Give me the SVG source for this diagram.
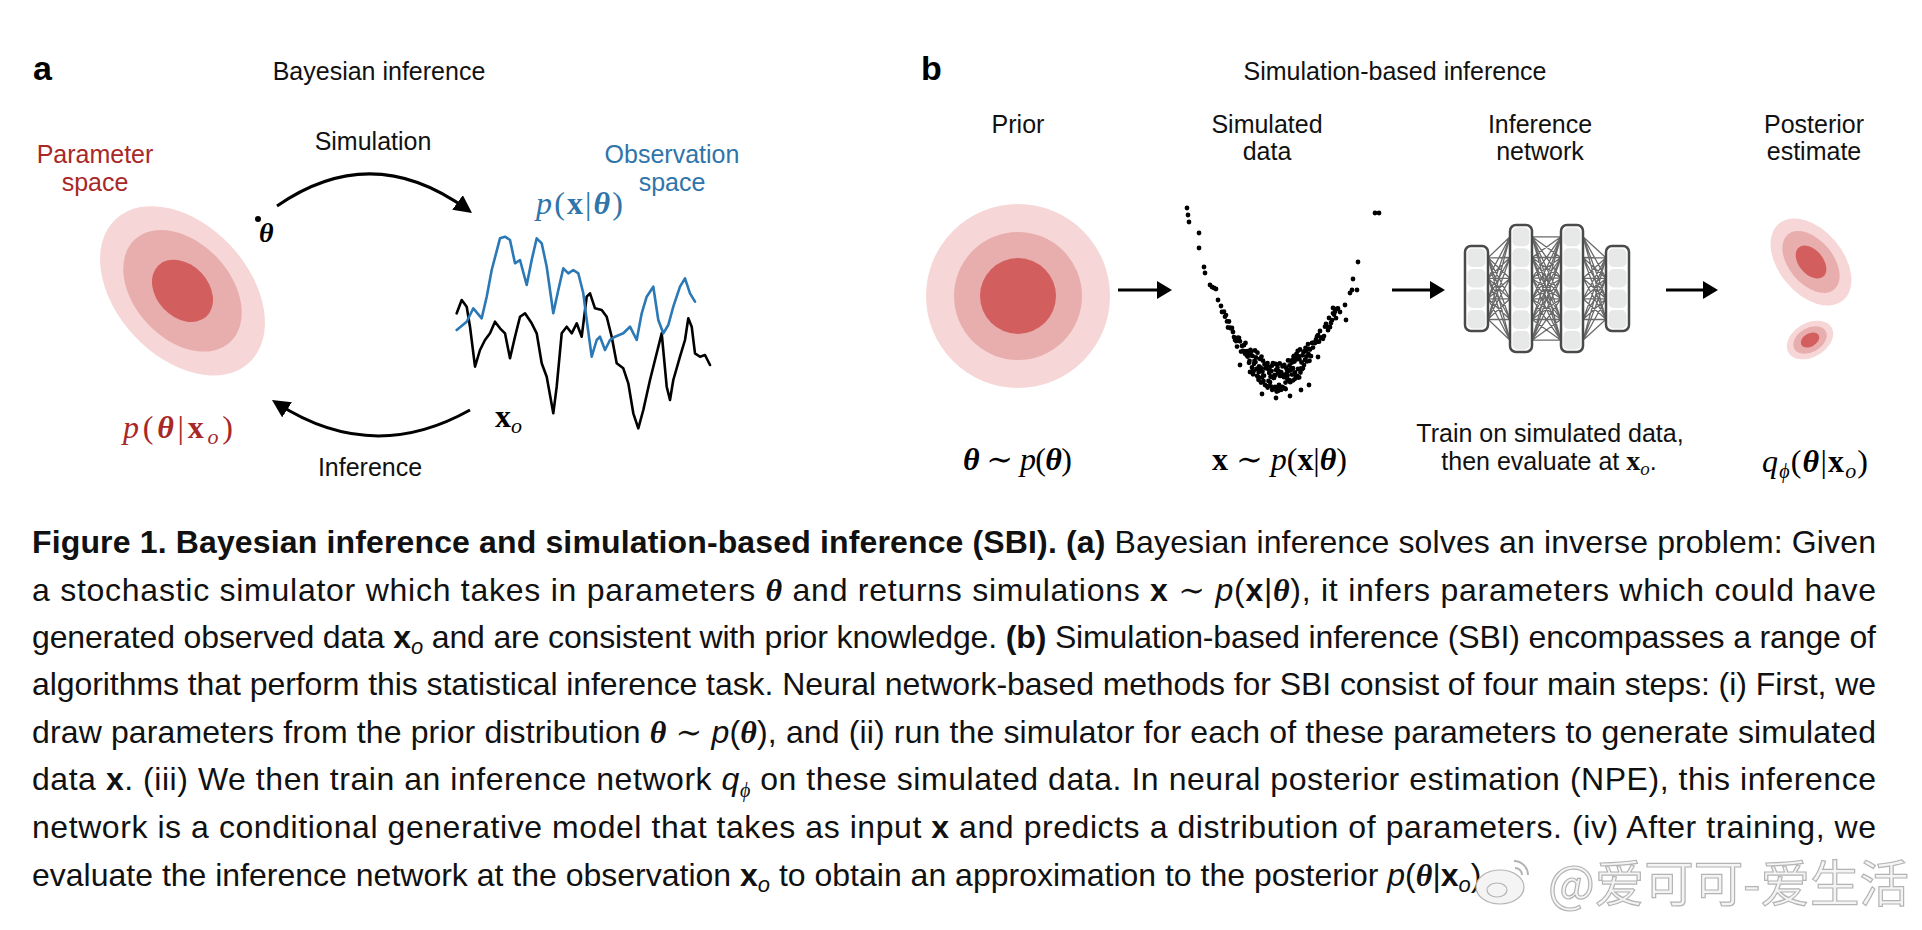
<svg xmlns="http://www.w3.org/2000/svg" width="1922" height="930" viewBox="0 0 1922 930">
<style>
.sans{font-family:"Liberation Sans",Arial,Helvetica,sans-serif}
.lbl{font-size:25px;fill:#111}
.ser{font-family:"Liberation Serif","DejaVu Serif","Times New Roman",serif}
.math{font-size:32px}
.it{font-style:italic}
.bf{font-weight:bold}
.red{fill:#a82828}
.blue{fill:#2f74aa}
.cap{font-size:32px;fill:#111}
.e1{fill:#f6d6d6}
.e2{fill:#e8aeae}
.e3{fill:#d35e5e}
.col{fill:#ffffff;stroke:#4a4a4a;stroke-width:2.5}
.cell{fill:#e7e8e8}
.wm{font-family:"Noto Sans CJK SC","Noto Sans",sans-serif;font-size:49.5px;fill:#f4f4f4;stroke:#b4b4b4;stroke-width:1.2}
</style>
<defs>
<marker id="headA" viewBox="0 0 18 18" refX="12" refY="9" markerWidth="18" markerHeight="18" markerUnits="userSpaceOnUse" orient="auto"><path d="M0 0L18 9L0 18z" fill="#000"/></marker>
<marker id="headB" viewBox="0 0 15 18" refX="10" refY="9" markerWidth="15" markerHeight="18" markerUnits="userSpaceOnUse" orient="auto"><path d="M0 0L15 9L0 18z" fill="#000"/></marker>
</defs>
<rect width="1922" height="930" fill="#fff"/>

<!-- Panel a -->
<g id="panel-a-title">
<text x="33" y="80" class="sans bf" font-size="34">a</text>
<text x="379" y="80" class="sans lbl" text-anchor="middle">Bayesian inference</text>
</g>
<g id="parameter-space">
<text x="95" y="163" class="sans lbl red" text-anchor="middle">Parameter</text>
<text x="95" y="191" class="sans lbl red" text-anchor="middle">space</text>
<g transform="translate(182.5 290.8) rotate(47)">
<ellipse rx="98" ry="66" class="e1"/>
<ellipse rx="70" ry="48" class="e2"/>
<ellipse rx="35" ry="26" class="e3"/>
</g>
<text x="123" y="438" class="ser math red" textLength="110"><tspan class="it">p</tspan>(<tspan class="bf it">θ</tspan>|<tspan class="bf">x</tspan><tspan class="it" font-size="22" dy="6">o</tspan><tspan dy="-6">)</tspan></text>
</g>
<g id="theta-point">
<circle cx="258" cy="219" r="3" fill="#000"/>
<text x="259" y="242" class="ser bf it" font-size="28">θ</text>
</g>
<g id="observation-space">
<text x="672" y="163" class="sans lbl blue" text-anchor="middle">Observation</text>
<text x="672" y="191" class="sans lbl blue" text-anchor="middle">space</text>
<text x="536" y="214" class="ser math blue" textLength="87"><tspan class="it">p</tspan>(<tspan class="bf">x</tspan>|<tspan class="bf it">θ</tspan>)</text>
<polyline fill="none" stroke="#000" stroke-width="2.6" stroke-linejoin="round" stroke-linecap="round" points="456.7,313.3 461.7,300 466.7,306.7 470,326.7 475,366.7 480,350 485,340 490,333.3 495,321.7 500,328.3 505,333.3 510,358.3 515,336.7 520,316.7 525,313.3 531.7,323.3 536.7,333.3 541.7,363.3 546.7,376.7 553.3,413.3 556.7,386.7 561.7,333.3 566.7,326.7 571.7,333.3 576.7,323.3 581.7,336.7 586.7,296.7 590,293.3 595,308.3 601.7,310 606.7,316.7 611.7,336.7 616.7,363.3 623.3,368.3 628.3,383.3 633.3,413.3 638.3,428.3 643.3,410 650,380 656.7,353.3 661.7,333.3 666.7,386.7 670,400 673.3,380 680,356.7 685,340 688.3,318.3 691.7,326.7 695,353.3 700,356.7 705,355 710,365"/>
<polyline fill="none" stroke="#2a78b5" stroke-width="2.6" stroke-linejoin="round" stroke-linecap="round" points="456.7,330 466.7,321.7 473.3,308.3 481.7,318.3 486.7,296.7 491.7,270 500,238.3 505,236.7 510,240 515,263.3 520,260 526.7,285 531.7,260 536.7,238.3 541.7,243.3 546.7,266.7 553.3,313.3 558.3,290 563.3,268.3 568.3,273.3 573.3,270 578.3,273.3 583.3,293.3 586.7,320 591.7,356.7 596.7,340 600,336.7 605,350 610,340 615,336.7 623.3,333.3 630,326.7 636.7,340 641.7,313.3 646.7,296.7 653.3,286.7 658.3,320 663.3,333.3 668.3,325 673.3,306.7 680,286.7 685,278.3 690,293.3 695,301.7"/>
<text x="495" y="427" class="ser math"><tspan class="bf">x</tspan><tspan class="it" font-size="22" dy="6">o</tspan></text>
</g>

<!-- Panel b -->
<g id="panel-b-title">
<text x="921" y="80" class="sans bf" font-size="34">b</text>
<text x="1395" y="80" class="sans lbl" text-anchor="middle">Simulation-based inference</text>
</g>
<g id="prior">
<text x="1018" y="133" class="sans lbl" text-anchor="middle">Prior</text>
<circle cx="1018" cy="296" r="92" class="e1"/>
<circle cx="1018" cy="296" r="64" class="e2"/>
<circle cx="1018" cy="296" r="38" class="e3"/>
<text x="963" y="470" class="ser math" textLength="109"><tspan class="bf it">θ</tspan> ∼ <tspan class="it">p</tspan>(<tspan class="bf it">θ</tspan>)</text>
</g>
<g id="simulated-data">
<text x="1267" y="133" class="sans lbl" text-anchor="middle">Simulated</text>
<text x="1267" y="160" class="sans lbl" text-anchor="middle">data</text>
<path fill="none" stroke="#000" stroke-width="4.8" stroke-linecap="round" d="M1187 208h0M1188 215h0M1189 222h0M1199 233h0M1199 248h0M1204 267h0M1205 273h0M1210 285h0M1212 287h0M1214 288h0M1216 289h0M1218 300h0M1221 306h0M1222 312h0
M1224 311.6h0M1225 316.7h0M1226 315.1h0M1227 321.4h0M1228 327.5h0M1229 321.5h0M1230 327.7h0M1231 328.4h0M1232 327.9h0M1233 332h0M1234 337.1h0M1235 340h0M1236 341.2h0M1237 346.6h0M1238 337.7h0M1239 337.8h0M1240 341.3h0M1241 351.6h0M1242 345.9h0M1243 350.9h0M1244 345.2h0M1245 353.7h0M1246 351.5h0M1247 351.1h0M1248 352.5h0M1249 362.8h0M1250 355.3h0M1251 351.9h0M1252 367.4h0M1253 374.3h0M1254 363.8h0M1255 350.5h0M1256 357.4h0M1257 375.8h0M1258 376.9h0M1259 366.5h0M1260 358.9h0M1261 382.6h0M1262 377.4h0M1263 360.7h0M1264 375.7h0M1265 385h0M1266 368.3h0M1267 386.2h0M1268 386.8h0M1269 370.1h0M1270 382.2h0M1271 376.8h0M1272 365.7h0M1273 363.1h0M1274 377.9h0M1275 387h0M1276 370.1h0M1277 364.6h0M1278 391h0M1279 384.8h0M1280 375.9h0M1281 389.9h0M1282 375.1h0M1283 374.7h0M1284 377.2h0M1285 388.4h0M1286 367.8h0M1287 369.9h0M1288 360.4h0M1289 379.9h0M1290 382h0M1291 361h0M1292 374.6h0M1293 368.2h0M1294 355.8h0M1295 372.3h0M1296 359.7h0M1297 375.9h0M1298 369h0M1299 356.4h0M1300 349.5h0M1301 368.4h0M1302 369.3h0M1303 368.2h0M1304 365.1h0M1305 360h0M1306 350.7h0M1307 361.4h0M1308 344.1h0M1309 348.8h0M1310 349.5h0M1311 356.2h0M1312 342.9h0M1313 347.6h0M1314 342.3h0M1315 343h0M1316 339.3h0M1317 336.5h0M1318 335.1h0M1319 341.7h0M1320 331h0M1321 337.6h0M1322 337.5h0M1323 338.8h0M1324 336.1h0M1325 326.7h0M1326 323.8h0M1327 326.3h0M1328 330.2h0M1329 318h0M1330 327.2h0M1331 323h0M1332 320.2h0M1333 313.3h0M1334 314.5h0M1335 311.7h0M1336 318.2h0M1337 308.7h0M1338 308.5h0
M1245.5 343h0M1246.5 355.1h0M1247.5 356.5h0M1248.5 354.3h0M1249.5 361h0M1250.5 350h0M1251.5 372.1h0M1252.5 355.9h0M1253.5 371.4h0M1254.5 361h0M1255.5 362.1h0M1256.5 368.9h0M1257.5 352.7h0M1258.5 379.8h0M1259.5 369.3h0M1260.5 370.4h0M1261.5 356.6h0M1262.5 371.6h0M1263.5 380.9h0M1264.5 364.2h0M1265.5 364.8h0M1266.5 368.3h0M1267.5 363.1h0M1268.5 381h0M1269.5 367.2h0M1270.5 376.4h0M1271.5 371.1h0M1272.5 377.2h0M1273.5 389.1h0M1274.5 375.1h0M1275.5 363.9h0M1276.5 387.4h0M1277.5 367.5h0M1278.5 370.8h0M1279.5 387.7h0M1280.5 375.9h0M1281.5 387h0M1282.5 366.4h0M1283.5 366h0M1284.5 365.7h0M1285.5 382.6h0M1286.5 373.6h0M1287.5 375.6h0M1288.5 360.4h0M1289.5 365.5h0M1290.5 382h0M1291.5 369.7h0M1292.5 360.2h0M1293.5 356.6h0M1294.5 361.6h0M1295.5 375.2h0M1296.5 353.9h0M1297.5 355.7h0M1298.5 377.7h0M1299.5 359.3h0M1300.5 372.6h0M1301.5 362.4h0M1302.5 355.3h0M1303.5 352.2h0M1304.5 351.1h0M1305.5 348h0M1306.5 356.7h0M1307.5 355.4h0M1308.5 354.1h0M1309.5 360.8h0
M1258.7 372.3h0M1260.2 367.5h0M1261.7 368.4h0M1263.2 375.6h0M1264.7 364h0M1266.2 364.9h0M1267.7 387.6h0M1269.2 372.9h0M1270.7 386.2h0M1272.2 389.8h0M1273.7 378h0M1275.2 375.4h0M1276.7 391.5h0M1278.2 373.2h0M1279.7 363.3h0M1281.2 372.1h0M1282.7 387.1h0M1284.2 364.8h0M1285.7 389.1h0M1287.2 378.7h0M1288.7 371.2h0M1290.2 370.1h0M1291.7 362.7h0M1293.2 380.3h0M1294.7 379.1h0M1296.2 355.8h0M1297.7 351h0M1299.2 377.4h0M1300.7 369.5h0
M1276 398h0M1290 396h0M1262 394h0M1301 390h0M1309 385h0M1240 365h0M1318 357h0M1250 372h0
M1340 312h0M1345 305h0M1346 320h0M1333 308h0M1350 293h0M1352 290h0M1357 290h0M1353 279h0M1358 262h0M1375 213h0M1379 213h0"/>
<text x="1212" y="470" class="ser math" textLength="135"><tspan class="bf">x</tspan> ∼ <tspan class="it">p</tspan>(<tspan class="bf">x</tspan>|<tspan class="bf it">θ</tspan>)</text>
</g>
<g id="inference-network">
<text x="1540" y="133" class="sans lbl" text-anchor="middle">Inference</text>
<text x="1540" y="160" class="sans lbl" text-anchor="middle">network</text>
<path fill="none" stroke="#6a6a6a" stroke-width="1.3" d="M1488 257.8L1510 236.8M1488 257.8L1510 257.5M1488 257.8L1510 278.2M1488 257.8L1510 298.8M1488 257.8L1510 319.5M1488 257.8L1510 340.2M1488 278.3L1510 236.8M1488 278.3L1510 257.5M1488 278.3L1510 278.2M1488 278.3L1510 298.8M1488 278.3L1510 319.5M1488 278.3L1510 340.2M1488 298.8L1510 236.8M1488 298.8L1510 257.5M1488 298.8L1510 278.2M1488 298.8L1510 298.8M1488 298.8L1510 319.5M1488 298.8L1510 340.2M1488 319.3L1510 236.8M1488 319.3L1510 257.5M1488 319.3L1510 278.2M1488 319.3L1510 298.8M1488 319.3L1510 319.5M1488 319.3L1510 340.2
M1532 236.8L1561 236.8M1532 236.8L1561 257.5M1532 236.8L1561 278.2M1532 236.8L1561 298.8M1532 236.8L1561 319.5M1532 236.8L1561 340.2M1532 257.5L1561 236.8M1532 257.5L1561 257.5M1532 257.5L1561 278.2M1532 257.5L1561 298.8M1532 257.5L1561 319.5M1532 257.5L1561 340.2M1532 278.2L1561 236.8M1532 278.2L1561 257.5M1532 278.2L1561 278.2M1532 278.2L1561 298.8M1532 278.2L1561 319.5M1532 278.2L1561 340.2M1532 298.8L1561 236.8M1532 298.8L1561 257.5M1532 298.8L1561 278.2M1532 298.8L1561 298.8M1532 298.8L1561 319.5M1532 298.8L1561 340.2M1532 319.5L1561 236.8M1532 319.5L1561 257.5M1532 319.5L1561 278.2M1532 319.5L1561 298.8M1532 319.5L1561 319.5M1532 319.5L1561 340.2M1532 340.2L1561 236.8M1532 340.2L1561 257.5M1532 340.2L1561 278.2M1532 340.2L1561 298.8M1532 340.2L1561 319.5M1532 340.2L1561 340.2
M1583 236.8L1606 257.8M1583 236.8L1606 278.3M1583 236.8L1606 298.8M1583 236.8L1606 319.3M1583 257.5L1606 257.8M1583 257.5L1606 278.3M1583 257.5L1606 298.8M1583 257.5L1606 319.3M1583 278.2L1606 257.8M1583 278.2L1606 278.3M1583 278.2L1606 298.8M1583 278.2L1606 319.3M1583 298.8L1606 257.8M1583 298.8L1606 278.3M1583 298.8L1606 298.8M1583 298.8L1606 319.3M1583 319.5L1606 257.8M1583 319.5L1606 278.3M1583 319.5L1606 298.8M1583 319.5L1606 319.3M1583 340.2L1606 257.8M1583 340.2L1606 278.3M1583 340.2L1606 298.8M1583 340.2L1606 319.3"/>
<rect x="1465" y="246" width="23" height="85" rx="6" class="col"/>
<rect x="1467.5" y="248.5" width="18" height="18.5" rx="5" class="cell"/>
<rect x="1467.5" y="269" width="18" height="18.5" rx="5" class="cell"/>
<rect x="1467.5" y="289.5" width="18" height="18.5" rx="5" class="cell"/>
<rect x="1467.5" y="310" width="18" height="18.5" rx="5" class="cell"/>
<rect x="1510" y="225" width="22" height="127" rx="6" class="col"/>
<rect x="1512.5" y="227.5" width="17" height="18.7" rx="5" class="cell"/>
<rect x="1512.5" y="248.2" width="17" height="18.7" rx="5" class="cell"/>
<rect x="1512.5" y="268.8" width="17" height="18.7" rx="5" class="cell"/>
<rect x="1512.5" y="289.5" width="17" height="18.7" rx="5" class="cell"/>
<rect x="1512.5" y="310.2" width="17" height="18.7" rx="5" class="cell"/>
<rect x="1512.5" y="330.8" width="17" height="18.7" rx="5" class="cell"/>
<rect x="1561" y="225" width="22" height="127" rx="6" class="col"/>
<rect x="1563.5" y="227.5" width="17" height="18.7" rx="5" class="cell"/>
<rect x="1563.5" y="248.2" width="17" height="18.7" rx="5" class="cell"/>
<rect x="1563.5" y="268.8" width="17" height="18.7" rx="5" class="cell"/>
<rect x="1563.5" y="289.5" width="17" height="18.7" rx="5" class="cell"/>
<rect x="1563.5" y="310.2" width="17" height="18.7" rx="5" class="cell"/>
<rect x="1563.5" y="330.8" width="17" height="18.7" rx="5" class="cell"/>
<rect x="1606" y="246" width="23" height="85" rx="6" class="col"/>
<rect x="1608.5" y="248.5" width="18" height="18.5" rx="5" class="cell"/>
<rect x="1608.5" y="269" width="18" height="18.5" rx="5" class="cell"/>
<rect x="1608.5" y="289.5" width="18" height="18.5" rx="5" class="cell"/>
<rect x="1608.5" y="310" width="18" height="18.5" rx="5" class="cell"/>
<text x="1550" y="442" class="sans lbl" text-anchor="middle">Train on simulated data,</text>
<text x="1549" y="470" class="sans lbl" text-anchor="middle">then evaluate at <tspan class="ser bf" font-size="28">x</tspan><tspan class="ser it" font-size="19" dy="5">o</tspan><tspan dy="-5">.</tspan></text>
</g>
<g id="posterior-estimate">
<text x="1814" y="133" class="sans lbl" text-anchor="middle">Posterior</text>
<text x="1814" y="160" class="sans lbl" text-anchor="middle">estimate</text>
<g transform="translate(1811 262) rotate(50)">
<ellipse rx="50" ry="32" class="e1"/>
<ellipse rx="36" ry="22" class="e2"/>
<ellipse rx="19" ry="12" class="e3"/>
</g>
<g transform="translate(1810 340) rotate(-30)">
<ellipse rx="25" ry="17" class="e1"/>
<ellipse rx="18" ry="12" class="e2"/>
<ellipse rx="10" ry="6.5" class="e3"/>
</g>
<text x="1762" y="472" class="ser math" textLength="106"><tspan class="it">q</tspan><tspan class="it" font-size="20" dy="6">ϕ</tspan><tspan dy="-6">(</tspan><tspan class="bf it">θ</tspan>|<tspan class="bf">x</tspan><tspan class="it" font-size="22" dy="6">o</tspan><tspan dy="-6">)</tspan></text>
</g>

<g id="connectors" fill="none" stroke="#000">
<path d="M277 206Q372 140 467.2 209.5" stroke-width="3" marker-end="url(#headA)"/>
<text x="373" y="150" class="sans lbl" text-anchor="middle" stroke="none">Simulation</text>
<path d="M470 410Q372 465 277 403.3" stroke-width="3" marker-end="url(#headA)"/>
<text x="370" y="476" class="sans lbl" text-anchor="middle" stroke="none">Inference</text>
<path d="M1118 290H1167" stroke-width="3" marker-end="url(#headB)"/>
<path d="M1392 290H1440" stroke-width="3" marker-end="url(#headB)"/>
<path d="M1666 290H1713" stroke-width="3" marker-end="url(#headB)"/>
</g>

<g id="caption" class="sans cap">
<text x="32" y="553" textLength="1844"><tspan class="bf">Figure 1. Bayesian inference and simulation-based inference (SBI). (a)</tspan> Bayesian inference solves an inverse problem: Given</text>
<text x="32" y="601" textLength="1844">a stochastic simulator which takes in parameters <tspan class="ser bf it">θ</tspan> and returns simulations <tspan class="bf">x</tspan> <tspan class="ser">∼</tspan> <tspan class="it">p</tspan>(<tspan class="bf">x</tspan>|<tspan class="ser bf it">θ</tspan>), it infers parameters which could have</text>
<text x="32" y="648" textLength="1844">generated observed data <tspan class="bf">x</tspan><tspan class="it" font-size="22" dy="6">o</tspan><tspan dy="-6"> and are consistent with prior knowledge. </tspan><tspan class="bf">(b)</tspan> Simulation-based inference (SBI) encompasses a range of</text>
<text x="32" y="695" textLength="1844">algorithms that perform this statistical inference task. Neural network-based methods for SBI consist of four main steps: (i) First, we</text>
<text x="32" y="743" textLength="1844">draw parameters from the prior distribution <tspan class="ser bf it">θ</tspan> <tspan class="ser">∼</tspan> <tspan class="it">p</tspan>(<tspan class="ser bf it">θ</tspan>), and (ii) run the simulator for each of these parameters to generate simulated</text>
<text x="32" y="790" textLength="1844">data <tspan class="bf">x</tspan>. (iii) We then train an inference network <tspan class="it">q</tspan><tspan class="ser it" font-size="20" dy="7">ϕ</tspan><tspan dy="-7"> on these simulated data. In neural posterior estimation (NPE), this inference</tspan></text>
<text x="32" y="838" textLength="1844">network is a conditional generative model that takes as input <tspan class="bf">x</tspan> and predicts a distribution of parameters. (iv) After training, we</text>
<text x="32" y="886">evaluate the inference network at the observation <tspan class="bf">x</tspan><tspan class="it" font-size="22" dy="6">o</tspan><tspan dy="-6"> to obtain an approximation to the posterior </tspan><tspan class="it">p</tspan>(<tspan class="ser bf it">θ</tspan>|<tspan class="bf">x</tspan><tspan class="it" font-size="22" dy="6">o</tspan><tspan dy="-6">).</tspan></text>
</g>

<g id="watermark">
<ellipse cx="1500" cy="887" rx="24" ry="17" fill="#f4f4f4" stroke="#b4b4b4" stroke-width="1.2"/>
<ellipse cx="1497" cy="890" rx="10" ry="7" fill="none" stroke="#b4b4b4" stroke-width="1.2"/>
<path d="M1514 861a14 14 0 0 1 14 14M1515 868a7 7 0 0 1 7 7" fill="none" stroke="#b4b4b4" stroke-width="2"/>
<text x="1548" y="902" class="wm">@爱可可-爱生活</text>
</g>
</svg>
